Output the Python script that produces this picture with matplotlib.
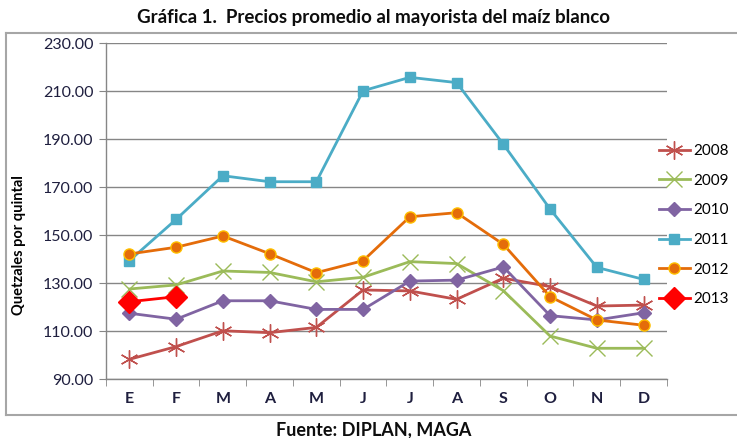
import matplotlib
matplotlib.use("Agg")
import matplotlib.pyplot as plt
from matplotlib.lines import Line2D

plt.rcParams['font.family'] = ['Lato', 'DejaVu Sans']

months = ["E", "F", "M", "A", "M", "J", "J", "A", "S", "O", "N", "D"]

p2008 = [98.2, 103.5, 110.1, 109.3, 111.5, 127.1, 126.7, 123.2, 132.0, 128.5, 120.4, 120.8]
p2009 = [127.5, 129.2, 135.0, 134.4, 130.5, 132.4, 138.9, 138.1, 126.8, 107.9, 102.8, 102.8]
p2010 = [117.4, 114.9, 122.6, 122.6, 119.0, 119.0, 130.8, 131.2, 136.7, 116.4, 114.6, 117.6]
p2011 = [139.3, 156.5, 174.7, 172.2, 172.2, 210.1, 215.7, 213.5, 187.8, 160.8, 136.5, 131.5]
p2012 = [142.1, 144.9, 149.6, 142.2, 134.3, 139.3, 157.6, 159.3, 146.1, 124.3, 114.6, 112.4]
p2013 = [122.2, 124.3]

yticks = [90, 110, 130, 150, 170, 190, 210, 230]

fig = plt.figure(figsize=(7.37, 4.38), dpi=100)
ax = fig.add_axes([0.1438, 0.1347, 0.7612, 0.7671])

x = list(range(len(months)))
ax.plot(x, p2008, color="#C0504D", lw=2, marker=(6, 2, 0), ms=13, mew=1, mec="#C0504D", label="2008", zorder=3)
ax.plot(x, p2009, color="#9BBB59", lw=2, marker="x", ms=11, mew=1, label="2009", zorder=3)
ax.plot(x, p2010, color="#8064A2", lw=2, marker="D", ms=7, label="2010", zorder=3)
ax.plot(x, p2011, color="#4BACC6", lw=2, marker="s", ms=7, label="2011", zorder=3)
ax.plot(x, p2012, color="#E46C0A", lw=2, marker="o", ms=8, mfc="#E46C0A", mec="#FFC000", mew=1, label="2012", zorder=3)
ax.plot(x[:len(p2013)], p2013, color="#FF0000", lw=2, marker="D", ms=11, mfc="#FF0000", mec="#FF0000", label="2013", zorder=4)

ax.set_xlim(-0.5, 11.5)
ax.set_ylim(90, 230)
ax.set_yticks(yticks)
ax.set_yticklabels([f"{v:.2f}" for v in yticks], fontsize=11.5, color="#1F1F3F")
ax.set_xticks(x)
ax.set_xticklabels(months, fontsize=11.5, fontweight="bold", color="#1F1F3F")
ax.set_xticks([i - 0.5 for i in range(13)], minor=True)
ax.tick_params(axis="x", which="major", length=0, pad=9)
ax.tick_params(axis="x", which="minor", length=5, color="#868686")
ax.tick_params(axis="y", length=5, color="#868686", pad=4)
ax.grid(axis="y", color="#868686", lw=1)
for s in ["top", "right"]:
    ax.spines[s].set_visible(False)
for s in ["left", "bottom"]:
    ax.spines[s].set_color("#868686")
    ax.spines[s].set_linewidth(1)

ax.set_ylabel("Quetzales por quintal", fontsize=10.5, fontweight="bold")
ax.yaxis.set_label_coords(-0.143, 0.40)

ax.legend(loc="upper left", bbox_to_anchor=(0.975, 0.717), frameon=False, fontsize=11,
          handlelength=2.0, labelspacing=1.02, handletextpad=0.25, borderaxespad=0)

# chart border (no right edge visible)
bc = "#A6A6A6"
fig.add_artist(Line2D([0.008, 1.0], [0.9247, 0.9247], color=bc, lw=1.5, transform=fig.transFigure))
fig.add_artist(Line2D([0.008, 1.0], [0.0525, 0.0525], color=bc, lw=1.5, transform=fig.transFigure))
fig.add_artist(Line2D([0.008, 0.008], [0.0525, 0.9247], color=bc, lw=1.5, transform=fig.transFigure))

fig.text(0.507, 0.959, "Gráfica 1.  Precios promedio al mayorista del maíz blanco",
         ha="center", va="center", fontsize=13.5, fontweight="bold", color="#0D0D0D")
fig.text(0.507, 0.018, "Fuente: DIPLAN, MAGA", ha="center", va="center",
         fontsize=13, fontweight="bold", color="#0D0D0D")

fig.savefig("out.png", dpi=100)
